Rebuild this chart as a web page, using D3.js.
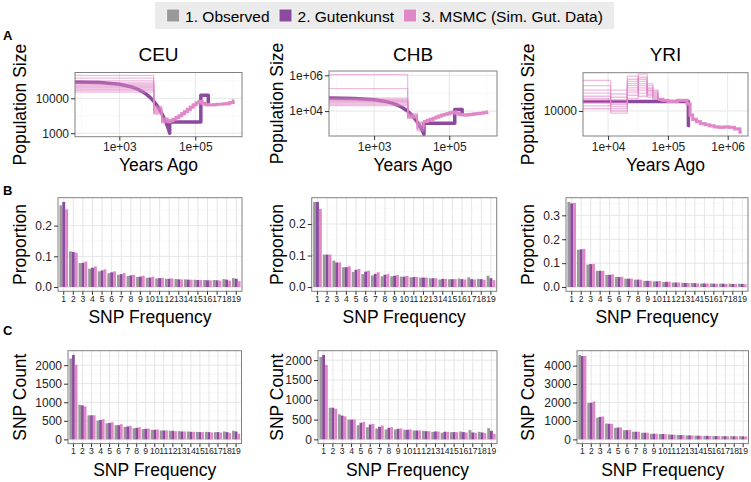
<!DOCTYPE html>
<html><head><meta charset="utf-8">
<script src="https://cdn.jsdelivr.net/npm/d3@7"></script>
<style>
body{margin:0;background:#fff;}
text{font-family:"Liberation Sans",Arial,Helvetica,sans-serif;}
</style></head><body>
<svg id="c" width="751" height="482"></svg>
<script>
// ================= DATA =================
const seriesNames = ["1. Observed", "2. Gutenkunst", "3. MSMC (Sim. Gut. Data)"];
const seriesColors = ["#999999", "#8a4a9e", "#e087c6"];
const popNames = ["CEU", "CHB", "YRI"];
const snpFreqCats = ["1","2","3","4","5","6","7","8","9","10","11","12","13","14","15","16","17","18","19"];

// ---- Panel A: Gutenkunst model (years ago, population size) ----
const ceuGutYears = [50, 300, 1000, 2000, 3000, 4000, 5000, 6000, 7000, 8000, 9000, 10000, 12000, 14000, 16000, 18000, 20000, 21200, 21200, 140000, 140000, 220000, 220000, 235000];
const ceuGutSize  = [29500, 28300, 25300, 21500, 18400, 15600, 13400, 11400, 9700, 8300, 7080, 6050, 4400, 3200, 2330, 1700, 1240, 1000, 2100, 2100, 12300, 12300, 7300, 7300];
const chbGutYears = [50, 300, 1000, 2000, 3000, 4000, 5000, 6000, 7000, 8000, 9000, 10000, 12000, 14000, 16000, 18000, 20000, 21200, 21200, 140000, 140000, 220000, 220000, 235000];
const chbGutSize  = [53500, 50600, 43400, 34800, 27900, 22400, 18000, 14400, 11600, 9300, 7460, 5980, 3850, 2480, 1590, 1030, 660, 510, 2100, 2100, 12300, 12300, 7300, 7300];
const yriGutYears = [3000, 220000, 220000, 235000];
const yriGutSize  = [12300, 12300, 7300, 7300];

// ---- Panel A: MSMC replicates (step start times; per-replicate early steps; shared later steps) ----
const ceuMsmcYears = [50, 8000, 13000, 19000, 22000, 26000, 31000, 37000, 44000, 52000, 62000, 74000, 88000, 105000, 125000, 150000, 180000, 215000, 260000, 310000, 370000, 450000, 540000, 650000, 800000, 1000000, 1050000];
const ceuMsmcHead = [
  [45700, 6000, 2800], [38000, 5600, 2630], [31600, 5250, 2450], [27500, 4900, 2290],
  [25100, 4570, 2140], [22900, 4270, 2000], [21400, 3980, 2450], [20000, 3550, 2140],
  [18200, 4270, 2290], [16600, 3800, 2000], [15100, 5000, 2630]];
const ceuMsmcTail = [2140, 2290, 2510, 2820, 3160, 3630, 4170, 4790, 5620, 6460, 7410, 8130, 7240, 6610, 6460, 6460, 6610, 6760, 6760, 6920, 7080, 7590, 8510];

const chbMsmcYears = [50, 7800, 14000, 21000, 26000, 31000, 37000, 44000, 52000, 62000, 74000, 88000, 105000, 125000, 150000, 180000, 215000, 260000, 310000, 370000, 450000, 540000, 650000, 800000, 1000000, 1050000];
const chbMsmcHead = [
  [1100000, 5000, 1260], [182000, 4500, 1580], [52500, 7400, 2000], [44700, 6300, 1780],
  [39800, 5600, 2240], [35500, 5300, 1410], [31600, 4700, 1120], [28200, 4200, 2510],
  [24000, 6000, 1000], [20000, 4000, 800]];
const chbMsmcTail = [2630, 3020, 3470, 3980, 4570, 5250, 5890, 6610, 7240, 8130, 8910, 7590, 6610, 6170, 6030, 6310, 6610, 6920, 7240, 7590, 8320, 9120];

const yriMsmcYears = [3000, 11000, 21000, 32000, 45000, 56000, 68000, 82000, 100000, 120000, 145000, 175000, 210000, 235000, 260000, 300000, 350000, 420000, 500000, 600000, 720000, 870000, 1050000, 1300000, 1600000, 1700000];
const yriMsmcHead = [
  [19500, 12600, 16600, 22400, 15100, 13500], [17400, 15800, 21400, 18200, 14100, 12900],
  [15800, 10500, 14100, 20900, 16600, 14100], [14800, 13500, 19100, 13800, 18200, 15800],
  [13800, 9550, 15800, 17400, 13500, 13200], [13200, 11500, 20000, 19100, 15500, 14800],
  [12600, 14500, 13200, 16600, 17400, 15100], [12000, 11000, 18200, 20000, 14500, 13800],
  [11200, 12000, 15100, 15800, 16200, 14500], [10500, 10000, 17400, 14800, 15800, 15500]];
const yriMsmcTail = [12900, 12600, 12300, 12300, 12600, 12600, 11700, 9120, 8320, 7940, 7590, 7410, 7240, 7080, 7000, 7080, 7000, 6760, 6310];

// ---- Panel A axis limits & ticks ----
const ceuYearLim = [68, 1700000], ceuSizeLim = [794, 54950];
const chbYearLim = [63, 1862000], chbSizeLim = [407, 1738000];
const yriYearLim = [3800, 2188000], yriSizeLim = [5794, 23070];
const ceuYearTicks = [1e3, 1e5], ceuYearTickLabels = ["1e+03", "1e+05"];
const chbYearTicks = [1e3, 1e5], chbYearTickLabels = ["1e+03", "1e+05"];
const yriYearTicks = [1e4, 1e5, 1e6], yriYearTickLabels = ["1e+04", "1e+05", "1e+06"];
const ceuSizeTicks = [1000, 10000], ceuSizeTickLabels = ["1000", "10000"];
const chbSizeTicks = [1e4, 1e6], chbSizeTickLabels = ["1e+04", "1e+06"];
const yriSizeTicks = [10000], yriSizeTickLabels = ["10000"];
const ceuYearMinor = [1e2, 1e4, 1e6], chbYearMinor = [1e2, 1e4, 1e6], yriYearMinor = [31623, 316228];
const ceuSizeMinor = [3162, 31623], chbSizeMinor = [1e3, 1e5], yriSizeMinor = [];

// ---- Panel B: SFS proportions ----
const ceuPropObs  = [0.266,0.116,0.078,0.060,0.051,0.045,0.040,0.036,0.033,0.030,0.028,0.027,0.026,0.025,0.024,0.023,0.023,0.026,0.029];
const ceuPropGut  = [0.277,0.114,0.079,0.063,0.054,0.048,0.042,0.038,0.034,0.031,0.029,0.027,0.025,0.024,0.023,0.022,0.022,0.024,0.027];
const ceuPropMsmc = [0.253,0.112,0.083,0.067,0.058,0.051,0.046,0.040,0.037,0.034,0.030,0.028,0.025,0.024,0.023,0.022,0.021,0.021,0.019];
const chbPropObs  = [0.270,0.103,0.084,0.063,0.048,0.041,0.037,0.034,0.034,0.033,0.031,0.030,0.028,0.024,0.025,0.027,0.031,0.026,0.036];
const chbPropGut  = [0.270,0.103,0.078,0.063,0.055,0.049,0.042,0.039,0.036,0.033,0.032,0.030,0.028,0.026,0.025,0.025,0.025,0.025,0.028];
const chbPropMsmc = [0.248,0.103,0.078,0.066,0.057,0.052,0.047,0.041,0.038,0.035,0.032,0.030,0.028,0.026,0.025,0.024,0.024,0.023,0.022];
const yriPropObs  = [0.356,0.156,0.094,0.068,0.051,0.042,0.035,0.031,0.026,0.024,0.021,0.019,0.018,0.017,0.015,0.015,0.014,0.014,0.014];
const yriPropGut  = [0.350,0.158,0.096,0.068,0.051,0.042,0.035,0.031,0.026,0.024,0.022,0.019,0.017,0.016,0.015,0.014,0.014,0.013,0.013];
const yriPropMsmc = [0.352,0.160,0.097,0.068,0.053,0.043,0.035,0.031,0.026,0.025,0.022,0.019,0.017,0.015,0.015,0.014,0.013,0.013,0.012];
const ceuPropTicks = [0, 0.1, 0.2], chbPropTicks = [0, 0.1, 0.2], yriPropTicks = [0, 0.1, 0.2, 0.3];

// ---- Panel C: SFS counts ----
const ceuCountObs  = [2178,933,649,507,436,382,338,302,276,258,240,231,222,213,204,204,196,213,231];
const ceuCountGut  = [2276,916,649,524,444,382,347,311,284,258,240,231,213,204,196,196,196,196,213];
const ceuCountMsmc = [2009,889,649,542,462,409,364,329,293,267,240,222,213,204,196,187,187,178,151];
const chbCountObs  = [2083,800,633,500,358,308,275,250,250,242,225,217,192,167,183,200,233,192,283];
const chbCountGut  = [2133,800,600,500,417,375,317,292,267,242,225,208,200,192,183,183,175,175,217];
const chbCountMsmc = [1883,775,583,500,442,392,350,308,275,250,225,208,200,192,183,175,167,158,142];
const yriCountObs  = [4580,1975,1185,860,630,500,415,360,305,290,270,235,215,200,190,180,175,180,175];
const yriCountGut  = [4520,1990,1220,845,645,500,415,360,305,290,255,235,215,200,190,180,170,170,165];
const yriCountMsmc = [4520,2060,1240,845,645,520,415,360,305,285,255,235,210,195,185,175,170,165,160];
const ceuCountTicks = [0, 500, 1000, 1500, 2000], chbCountTicks = [0, 500, 1000, 1500, 2000], yriCountTicks = [0, 1000, 2000, 3000, 4000];

// ================= LAYOUT =================
const boxA = [{l:75, r:242, t:72.5, b:136.7}, {l:329, r:497, t:71, b:136}, {l:583, r:748, t:72.7, b:136}];
const boxB = [{l:58, r:242, t:197.7, b:291.3}, {l:311.7, r:496.7, t:197.7, b:291.3}, {l:566, r:748, t:197.7, b:291.3}];
const boxC = [{l:68, r:241.5, t:350.7, b:443.6}, {l:318, r:497, t:350.7, b:443.6}, {l:577, r:748.5, t:350.7, b:443.6}];
const yTitleX = [20, 276.5, 528];

const COL = {border:"#808080", gridMaj:"#e6e6e6", gridMin:"#f4f4f4", tick:"#333", tickText:"#222"};

const svg = d3.select("#c");
svg.append("rect").attr("width", 751).attr("height", 482).attr("fill", "#fff");
const defs = svg.append("defs");

function panelBg(g, b) {
  g.append("rect").attr("x", b.l).attr("y", b.t).attr("width", b.r - b.l).attr("height", b.b - b.t).attr("fill", "#fff");
}
function panelBorder(g, b) {
  g.append("rect").attr("x", b.l).attr("y", b.t).attr("width", b.r - b.l).attr("height", b.b - b.t)
    .attr("fill", "none").attr("stroke", COL.border).attr("stroke-width", 1);
}
function vline(g, x, b, col, w) { g.append("line").attr("x1", x).attr("x2", x).attr("y1", b.t).attr("y2", b.b).attr("stroke", col).attr("stroke-width", w); }
function hline(g, y, b, col, w) { g.append("line").attr("x1", b.l).attr("x2", b.r).attr("y1", y).attr("y2", y).attr("stroke", col).attr("stroke-width", w); }

function styleAxis(ax, size) {
  ax.select(".domain").remove();
  ax.selectAll(".tick line").attr("stroke", COL.tick).attr("stroke-width", 1);
  ax.selectAll(".tick text").attr("fill", COL.tickText).style("font-size", size + "px")
    .style("font-family", '"Liberation Sans",Arial,sans-serif');
}

function yTitle(text, x, y) {
  svg.append("text").attr("transform", `translate(${x},${y}) rotate(-90)`).attr("text-anchor", "middle")
    .attr("dy", "0.35em").style("font-size", "17.5px").attr("fill", "#000").text(text);
}
function xTitle(text, x, y) {
  svg.append("text").attr("x", x).attr("y", y).attr("text-anchor", "middle").style("font-size", "17.5px").attr("fill", "#000").text(text);
}

// ---------- Panel A ----------
function drawA(i, cfg) {
  const b = boxA[i];
  const g = svg.append("g");
  const x = d3.scaleLog().domain(cfg.xLim).range([b.l, b.r]);
  const y = d3.scaleLog().domain(cfg.yLim).range([b.b, b.t]);
  panelBg(g, b);
  cfg.xMinor.filter(v => v > cfg.xLim[0] && v < cfg.xLim[1]).forEach(v => vline(g, x(v), b, COL.gridMin, 0.6));
  cfg.yMinor.filter(v => v > cfg.yLim[0] && v < cfg.yLim[1]).forEach(v => hline(g, y(v), b, COL.gridMin, 0.6));
  cfg.xTicks.forEach(v => vline(g, x(v), b, COL.gridMaj, 1));
  cfg.yTicks.forEach(v => hline(g, y(v), b, COL.gridMaj, 1));
  const cid = "clipA" + i;
  defs.append("clipPath").attr("id", cid).append("rect").attr("x", b.l).attr("y", b.t).attr("width", b.r - b.l).attr("height", b.b - b.t);
  const pg = g.append("g").attr("clip-path", `url(#${cid})`);
  const line = d3.line().x(d => x(d[0])).y(d => y(d[1]));
  pg.append("path").datum(d3.zip(cfg.gutYears, cfg.gutSize)).attr("d", line)
    .attr("fill", "none").attr("stroke", seriesColors[1]).attr("stroke-width", 3.5).attr("stroke-linejoin", "round");
  const step = d3.line().x(d => x(d[0])).y(d => y(d[1])).curve(d3.curveStepAfter);
  const nTail = cfg.msmcTail.length;
  cfg.msmcHead.forEach(h => {
    const vals = h.concat(cfg.msmcTail);
    const pts = cfg.msmcYears.map((t, k) => [t, vals[Math.min(k, vals.length - 1)]]);
    pg.append("path").datum(pts).attr("d", step).attr("fill", "none")
      .attr("stroke", seriesColors[2]).attr("stroke-opacity", 0.55).attr("stroke-width", 1.3);
  });
  const h0 = cfg.msmcHead[0].length;
  const tailPts = cfg.msmcYears.slice(h0).map((t, k) => [t, cfg.msmcTail[Math.min(k, nTail - 1)]]);
  pg.append("path").datum(tailPts).attr("d", step).attr("fill", "none")
    .attr("stroke", seriesColors[2]).attr("stroke-opacity", 0.9).attr("stroke-width", 3.2);
  panelBorder(g, b);
  const ay = g.append("g").attr("transform", `translate(${b.l},0)`)
    .call(d3.axisLeft(y).tickValues(cfg.yTicks).tickFormat((d, k) => cfg.yTickLabels[k]).tickSize(4).tickPadding(2));
  styleAxis(ay, 12);
  const ax = g.append("g").attr("transform", `translate(0,${b.b})`)
    .call(d3.axisBottom(x).tickValues(cfg.xTicks).tickFormat((d, k) => cfg.xTickLabels[k]).tickSize(4).tickPadding(2));
  styleAxis(ax, 12);
  svg.append("text").attr("x", (b.l + b.r) / 2).attr("y", 61).attr("text-anchor", "middle")
    .style("font-size", "19px").attr("fill", "#000").text(cfg.title);
  yTitle("Population Size", yTitleX[i], (b.t + b.b) / 2);
  xTitle("Years Ago", (b.l + b.r) / 2, 171);
}

drawA(0, {title: popNames[0], xLim: ceuYearLim, yLim: ceuSizeLim, xTicks: ceuYearTicks, xTickLabels: ceuYearTickLabels,
  yTicks: ceuSizeTicks, yTickLabels: ceuSizeTickLabels, xMinor: ceuYearMinor, yMinor: ceuSizeMinor,
  gutYears: ceuGutYears, gutSize: ceuGutSize, msmcYears: ceuMsmcYears, msmcHead: ceuMsmcHead, msmcTail: ceuMsmcTail});
drawA(1, {title: popNames[1], xLim: chbYearLim, yLim: chbSizeLim, xTicks: chbYearTicks, xTickLabels: chbYearTickLabels,
  yTicks: chbSizeTicks, yTickLabels: chbSizeTickLabels, xMinor: chbYearMinor, yMinor: chbSizeMinor,
  gutYears: chbGutYears, gutSize: chbGutSize, msmcYears: chbMsmcYears, msmcHead: chbMsmcHead, msmcTail: chbMsmcTail});
drawA(2, {title: popNames[2], xLim: yriYearLim, yLim: yriSizeLim, xTicks: yriYearTicks, xTickLabels: yriYearTickLabels,
  yTicks: yriSizeTicks, yTickLabels: yriSizeTickLabels, xMinor: yriYearMinor, yMinor: yriSizeMinor,
  gutYears: yriGutYears, gutSize: yriGutSize, msmcYears: yriMsmcYears, msmcHead: yriMsmcHead, msmcTail: yriMsmcTail});

// ---------- Panels B & C ----------
function drawBars(b, col, series, yTicks, fmt, yLabel, xTitleY) {
  const g = svg.append("g");
  const x0 = d3.scaleBand().domain(snpFreqCats).range([b.l, b.r]).paddingInner(0.1).paddingOuter(0.15);
  const x1 = d3.scaleBand().domain([0, 1, 2]).range([0, x0.bandwidth()]);
  const maxV = d3.max(series.flat());
  const y = d3.scaleLinear().domain([-0.05 * maxV, 1.05 * maxV]).range([b.b, b.t]);
  panelBg(g, b);
  for (let k = 0; k < yTicks.length; k++) {
    const mid = yTicks[k] + (yTicks[1] - yTicks[0]) / 2;
    if (mid < y.domain()[1]) hline(g, y(mid), b, COL.gridMin, 0.6);
  }
  yTicks.forEach(v => hline(g, y(v), b, COL.gridMaj, 1));
  snpFreqCats.forEach(c => vline(g, x0(c) + x0.bandwidth() / 2, b, COL.gridMaj, 1));
  series.forEach((vals, s) => {
    g.append("g").selectAll("rect").data(vals).join("rect")
      .attr("x", (d, k) => x0(snpFreqCats[k]) + x1(s))
      .attr("width", x1.bandwidth())
      .attr("y", d => y(d)).attr("height", d => y(0) - y(d))
      .attr("fill", seriesColors[s]);
  });
  panelBorder(g, b);
  const ay = g.append("g").attr("transform", `translate(${b.l},0)`)
    .call(d3.axisLeft(y).tickValues(yTicks).tickFormat(fmt).tickSize(4).tickPadding(2));
  styleAxis(ay, 12);
  const ax = g.append("g").attr("transform", `translate(0,${b.b})`)
    .call(d3.axisBottom(x0).tickSize(3.5).tickPadding(0.8));
  styleAxis(ax, 8.6);
  yTitle(yLabel, yTitleX[col], (b.t + b.b) / 2);
  xTitle("SNP Frequency", (b.l + b.r) / 2, xTitleY);
}

const fmtProp = d3.format(".1f"), fmtCount = d3.format("d");
drawBars(boxB[0], 0, [ceuPropObs, ceuPropGut, ceuPropMsmc], ceuPropTicks, fmtProp, "Proportion", 323);
drawBars(boxB[1], 1, [chbPropObs, chbPropGut, chbPropMsmc], chbPropTicks, fmtProp, "Proportion", 323);
drawBars(boxB[2], 2, [yriPropObs, yriPropGut, yriPropMsmc], yriPropTicks, fmtProp, "Proportion", 323);
drawBars(boxC[0], 0, [ceuCountObs, ceuCountGut, ceuCountMsmc], ceuCountTicks, fmtCount, "SNP Count", 476);
drawBars(boxC[1], 1, [chbCountObs, chbCountGut, chbCountMsmc], chbCountTicks, fmtCount, "SNP Count", 476);
drawBars(boxC[2], 2, [yriCountObs, yriCountGut, yriCountMsmc], yriCountTicks, fmtCount, "SNP Count", 476);

// ---------- Panel tags ----------
[["A", 40], ["B", 195], ["C", 335]].forEach(([t, yy]) => {
  svg.append("text").attr("x", 3).attr("y", yy).style("font-size", "13px").style("font-weight", "bold").attr("fill", "#000").text(t);
});

// ---------- Legend ----------
const legFont = '"Liberation Sans",Arial,sans-serif';
const legSize = 15.5;
const leg = svg.append("g");
const legBg = leg.append("rect").attr("y", 2).attr("height", 27).attr("fill", "#ebebeb");
const legItems = leg.append("g");
let cx = 0;
seriesNames.forEach((n, s) => {
  legItems.append("rect").attr("x", cx).attr("y", 8.5).attr("width", 14).attr("height", 14).attr("fill", "#f2f2f2");
  legItems.append("rect").attr("x", cx + 1).attr("y", 9.5).attr("width", 12).attr("height", 12).attr("fill", seriesColors[s]);
  const tx = legItems.append("text").attr("x", cx + 19).attr("y", 21.5).style("font-family", legFont)
    .style("font-size", legSize + "px").attr("fill", "#000").text(n);
  cx += 19 + tx.node().getComputedTextLength() + 9;
});
const legW = cx - 9;
const legX0 = 384.5 - legW / 2;
legItems.attr("transform", `translate(${legX0},0)`);
legBg.attr("x", legX0 - 11).attr("width", legW + 22);
</script>
</body></html>
